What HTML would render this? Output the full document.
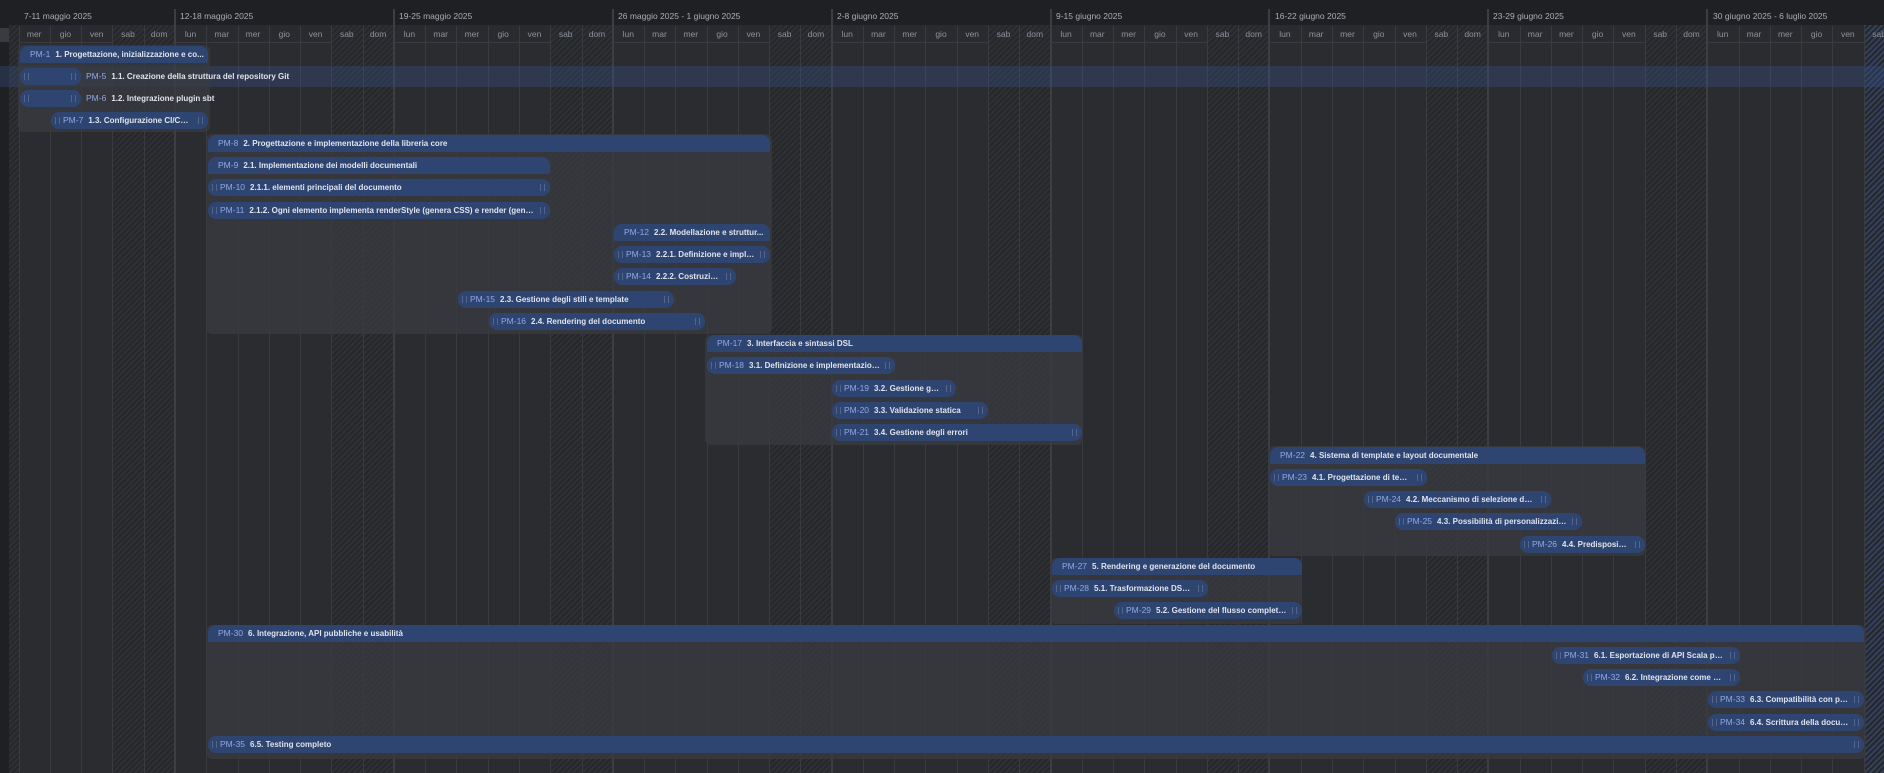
<!DOCTYPE html>
<html><head><meta charset="utf-8"><style>
*{margin:0;padding:0;box-sizing:border-box}
body{width:1884px;height:773px;background:#2b2c30;overflow:hidden;position:relative;font-family:"Liberation Sans",sans-serif}
.abs{position:absolute}
#top{left:0;top:0;width:1884px;height:25px;background:#1f2023}
#dayh{left:9px;top:25px;width:1875px;height:18px;background:#2a2b2f;border-bottom:1px solid #3a3b40}
.wk{position:absolute;top:11px;font-size:8.5px;color:#a9adb6;white-space:nowrap}
.wl{position:absolute;top:9px;width:2px;height:764px;background:#3d3e43}
.dl{position:absolute;top:26px;width:1px;height:747px;background:#3a3b40}
.dn{position:absolute;top:29px;width:31px;text-align:center;font-size:8.5px;color:#8d929c}
.hat{position:absolute;top:25px;height:748px;background:repeating-linear-gradient(135deg,#2f3034 0 2px,#26272a 2px 4px)}
.grp{position:absolute;background:rgba(58,59,64,0.75);border-radius:6px}
.bar{position:absolute;height:17px;background:#2f4571;border-radius:8px;font-size:8px;font-weight:bold;color:#dfe3ec;white-space:nowrap;overflow:hidden;text-overflow:ellipsis;line-height:17px;padding-left:10px}
.par{border-radius:8px 8px 2px 2px}
.bar .id,.lab .id{color:#90a9e6;font-weight:normal;margin-right:5px;font-size:8.5px}
.tk{padding-left:12px;padding-right:15px}
.tk:before,.tk:after{content:"";position:absolute;top:5px;width:3px;height:7px;border-left:1px solid #55648a;border-right:1px solid #55648a}
.tk:before{left:4px}.tk:after{right:5px}
.lab{position:absolute;font-size:8px;font-weight:bold;color:#dfe3ec;white-space:nowrap;line-height:17px}
</style></head><body>
<div id="top" class="abs"></div>
<div class="abs" style="left:0;top:25px;width:9px;height:748px;background:#1f2023"></div>
<div class="abs" style="left:0;top:28px;width:9px;height:14px;background:#3a3b40"></div>
<div id="dayh" class="abs"></div>
<div id="grid"></div>
<div class="abs" style="left:0;top:66px;width:1884px;height:21px;background:rgba(55,80,135,0.35)"></div>

<div class="wk" style="left:24px">7-11 maggio 2025</div>
<div class="wk" style="left:180px">12-18 maggio 2025</div>
<div class="wk" style="left:399px">19-25 maggio 2025</div>
<div class="wk" style="left:618px">26 maggio 2025 - 1 giugno 2025</div>
<div class="wk" style="left:837px">2-8 giugno 2025</div>
<div class="wk" style="left:1056px">9-15 giugno 2025</div>
<div class="wk" style="left:1275px">16-22 giugno 2025</div>
<div class="wk" style="left:1493px">23-29 giugno 2025</div>
<div class="wk" style="left:1713px">30 giugno 2025 - 6 luglio 2025</div>

<div class="grp" style="left:18px;top:45px;width:192px;height:87px"></div>
<div class="grp" style="left:206px;top:134px;width:566px;height:200px"></div>
<div class="grp" style="left:705px;top:335px;width:378px;height:110px"></div>
<div class="grp" style="left:1268px;top:446px;width:377px;height:110px"></div>
<div class="grp" style="left:1050px;top:558px;width:252px;height:66px"></div>
<div class="grp" style="left:206px;top:625px;width:1660px;height:134px"></div>

<div class="bar par" style="left:20px;top:46px;width:188px"><span class="id">PM-1</span>1. Progettazione, inizializzazione e co...</div>
<div class="bar tk" style="left:20px;top:68px;width:61px"></div>
<div class="lab" style="left:86px;top:68px"><span class="id">PM-5</span>1.1. Creazione della struttura del repository Git</div>
<div class="bar tk" style="left:20px;top:90px;width:61px"></div>
<div class="lab" style="left:86px;top:90px"><span class="id">PM-6</span>1.2. Integrazione plugin sbt</div>
<div class="bar tk" style="left:51px;top:112px;width:157px"><span class="id">PM-7</span>1.3. Configurazione CI/CD (G...</div>

<div class="bar par" style="left:208px;top:135px;width:562px"><span class="id">PM-8</span>2. Progettazione e implementazione della libreria core</div>
<div class="bar par" style="left:208px;top:157px;width:342px"><span class="id">PM-9</span>2.1. Implementazione dei modelli documentali</div>
<div class="bar tk" style="left:208px;top:179px;width:342px"><span class="id">PM-10</span>2.1.1. elementi principali del documento</div>
<div class="bar tk" style="left:208px;top:202px;width:342px"><span class="id">PM-11</span>2.1.2. Ogni elemento implementa renderStyle (genera CSS) e render (genera H...</div>
<div class="bar par" style="left:614px;top:224px;width:156px"><span class="id">PM-12</span>2.2. Modellazione e struttur...</div>
<div class="bar tk" style="left:614px;top:246px;width:156px"><span class="id">PM-13</span>2.2.1. Definizione e impleme...</div>
<div class="bar tk" style="left:614px;top:268px;width:122px"><span class="id">PM-14</span>2.2.2. Costruzione ...</div>
<div class="bar tk" style="left:458px;top:291px;width:216px"><span class="id">PM-15</span>2.3. Gestione degli stili e template</div>
<div class="bar tk" style="left:489px;top:313px;width:216px"><span class="id">PM-16</span>2.4. Rendering del documento</div>

<div class="bar par" style="left:707px;top:335px;width:375px"><span class="id">PM-17</span>3. Interfaccia e sintassi DSL</div>
<div class="bar tk" style="left:707px;top:357px;width:188px"><span class="id">PM-18</span>3.1. Definizione e implementazione ...</div>
<div class="bar tk" style="left:832px;top:380px;width:124px"><span class="id">PM-19</span>3.2. Gestione gerar...</div>
<div class="bar tk" style="left:832px;top:402px;width:156px"><span class="id">PM-20</span>3.3. Validazione statica</div>
<div class="bar tk" style="left:832px;top:424px;width:250px"><span class="id">PM-21</span>3.4. Gestione degli errori</div>

<div class="bar par" style="left:1270px;top:447px;width:375px"><span class="id">PM-22</span>4. Sistema di template e layout documentale</div>
<div class="bar tk" style="left:1270px;top:469px;width:157px"><span class="id">PM-23</span>4.1. Progettazione di templ...</div>
<div class="bar tk" style="left:1364px;top:491px;width:187px"><span class="id">PM-24</span>4.2. Meccanismo di selezione del te...</div>
<div class="bar tk" style="left:1395px;top:513px;width:187px"><span class="id">PM-25</span>4.3. Possibilità di personalizzazione ...</div>
<div class="bar tk" style="left:1520px;top:536px;width:125px"><span class="id">PM-26</span>4.4. Predisposizion...</div>

<div class="bar par" style="left:1052px;top:558px;width:250px"><span class="id">PM-27</span>5. Rendering e generazione del documento</div>
<div class="bar tk" style="left:1052px;top:580px;width:156px"><span class="id">PM-28</span>5.1. Trasformazione DSL → ...</div>
<div class="bar tk" style="left:1114px;top:602px;width:188px"><span class="id">PM-29</span>5.2. Gestione del flusso completo di...</div>

<div class="bar par" style="left:208px;top:625px;width:1656px"><span class="id">PM-30</span>6. Integrazione, API pubbliche e usabilità</div>
<div class="bar tk" style="left:1552px;top:647px;width:188px"><span class="id">PM-31</span>6.1. Esportazione di API Scala pubbli...</div>
<div class="bar tk" style="left:1583px;top:669px;width:157px"><span class="id">PM-32</span>6.2. Integrazione come plu...</div>
<div class="bar tk" style="left:1708px;top:691px;width:156px"><span class="id">PM-33</span>6.3. Compatibilità con pipel...</div>
<div class="bar tk" style="left:1708px;top:714px;width:156px"><span class="id">PM-34</span>6.4. Scrittura della docume...</div>
<div class="bar tk" style="left:208px;top:736px;width:1656px"><span class="id">PM-35</span>6.5. Testing completo</div>

<script>
var W=31.27,X0=18.65,g='',names=['mer','gio','ven','sab','dom','lun','mar'];
g+='<div class="hat" style="left:9px;width:10px"></div>';
for(var i=0;i<60;i++){var x=X0+W*i,n=names[i%7];
 if(n=='sab'||n=='dom')g+='<div class="hat" style="left:'+x+'px;width:'+W+'px'+(i==59?';background:repeating-linear-gradient(135deg,#33405c 0 2px,#26272a 2px 4px)':'')+'"></div>';
 g+='<div class="dl" style="left:'+x+'px"></div>';
 if(n=='lun')g+='<div class="wl" style="left:'+(x-1)+'px"></div>';}
document.getElementById('grid').innerHTML=g;
</script>
<div id="dn">
<div class="dn" style="left:18.7px">mer</div><div class="dn" style="left:49.9px">gio</div><div class="dn" style="left:81.2px">ven</div><div class="dn" style="left:112.5px">sab</div><div class="dn" style="left:143.7px">dom</div>
<div class="dn" style="left:175px">lun</div><div class="dn" style="left:206.3px">mar</div><div class="dn" style="left:237.5px">mer</div><div class="dn" style="left:268.8px">gio</div><div class="dn" style="left:300.1px">ven</div><div class="dn" style="left:331.3px">sab</div><div class="dn" style="left:362.6px">dom</div>
<div class="dn" style="left:393.9px">lun</div><div class="dn" style="left:425.2px">mar</div><div class="dn" style="left:456.4px">mer</div><div class="dn" style="left:487.7px">gio</div><div class="dn" style="left:519px">ven</div><div class="dn" style="left:550.2px">sab</div><div class="dn" style="left:581.5px">dom</div>
<div class="dn" style="left:612.8px">lun</div><div class="dn" style="left:644px">mar</div><div class="dn" style="left:675.3px">mer</div><div class="dn" style="left:706.6px">gio</div><div class="dn" style="left:737.9px">ven</div><div class="dn" style="left:769.1px">sab</div><div class="dn" style="left:800.4px">dom</div>
<div class="dn" style="left:831.7px">lun</div><div class="dn" style="left:862.9px">mar</div><div class="dn" style="left:894.2px">mer</div><div class="dn" style="left:925.5px">gio</div><div class="dn" style="left:956.7px">ven</div><div class="dn" style="left:988px">sab</div><div class="dn" style="left:1019.3px">dom</div>
<div class="dn" style="left:1050.6px">lun</div><div class="dn" style="left:1081.8px">mar</div><div class="dn" style="left:1113.1px">mer</div><div class="dn" style="left:1144.4px">gio</div><div class="dn" style="left:1175.6px">ven</div><div class="dn" style="left:1206.9px">sab</div><div class="dn" style="left:1238.2px">dom</div>
<div class="dn" style="left:1269.4px">lun</div><div class="dn" style="left:1300.7px">mar</div><div class="dn" style="left:1332px">mer</div><div class="dn" style="left:1363.3px">gio</div><div class="dn" style="left:1394.5px">ven</div><div class="dn" style="left:1425.8px">sab</div><div class="dn" style="left:1457.1px">dom</div>
<div class="dn" style="left:1488.3px">lun</div><div class="dn" style="left:1519.6px">mar</div><div class="dn" style="left:1550.9px">mer</div><div class="dn" style="left:1582.1px">gio</div><div class="dn" style="left:1613.4px">ven</div><div class="dn" style="left:1644.7px">sab</div><div class="dn" style="left:1676px">dom</div>
<div class="dn" style="left:1707.2px">lun</div><div class="dn" style="left:1738.5px">mar</div><div class="dn" style="left:1769.8px">mer</div><div class="dn" style="left:1801px">gio</div><div class="dn" style="left:1832.3px">ven</div><div class="dn" style="left:1863.6px">sab</div>
</div>
</body></html>
